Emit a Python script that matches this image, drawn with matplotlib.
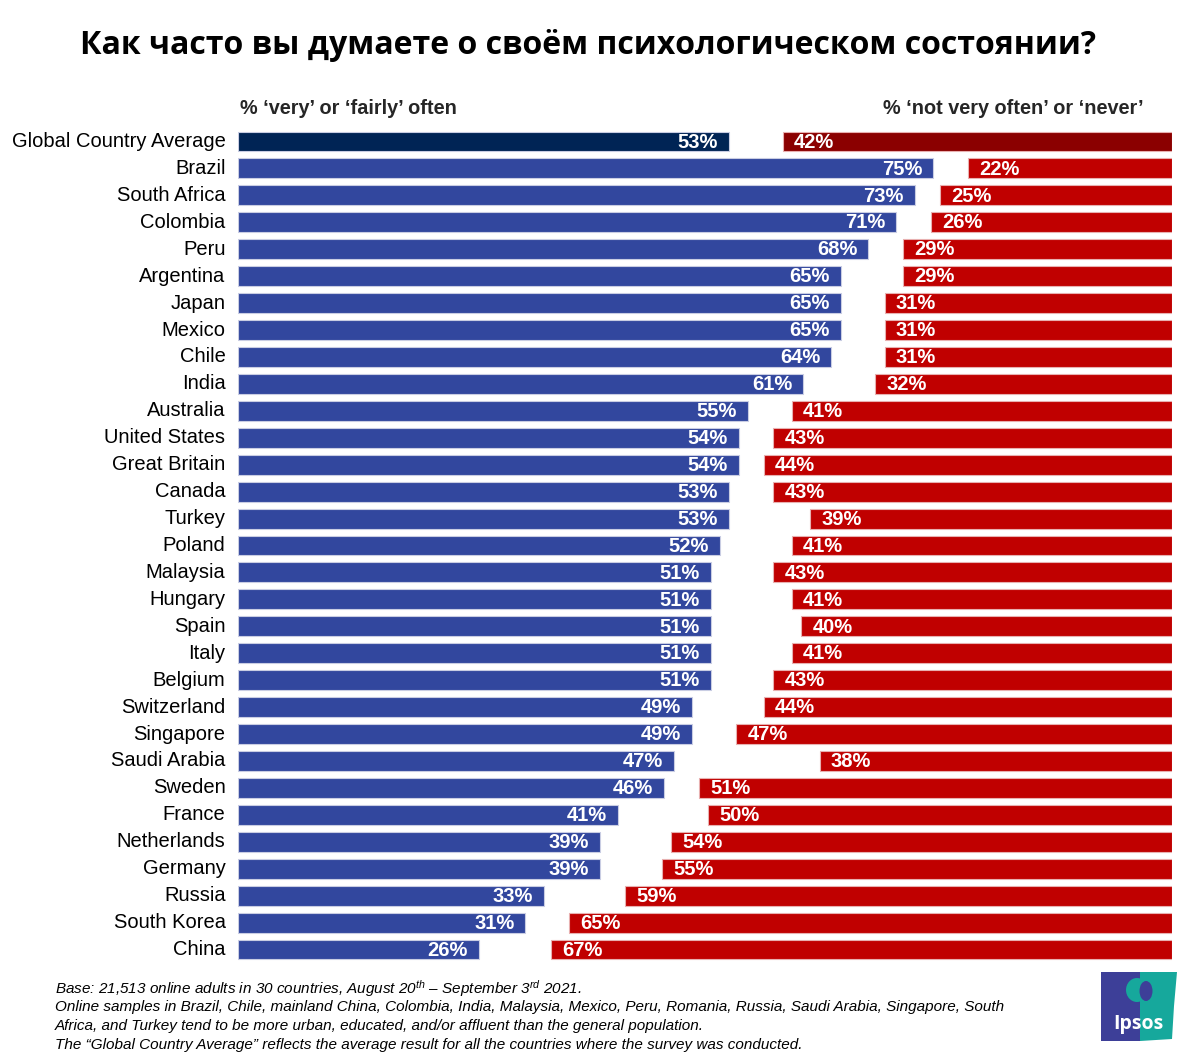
import matplotlib
matplotlib.use("Agg")
import matplotlib.pyplot as plt
from matplotlib.patches import Rectangle, Polygon, Ellipse

plt.rcParams['font.family'] = ['Liberation Sans', 'DejaVu Sans']
plt.rcParams['mathtext.fontset'] = 'custom'
plt.rcParams['mathtext.rm'] = 'Liberation Sans:italic'
plt.rcParams['mathtext.it'] = 'Liberation Sans:italic'

title = "Как часто вы думаете о своём психологическом состоянии?"
left_header = "% ‘very’ or ‘fairly’ often"
right_header = "% ‘not very often’ or ‘never’"

countries = ["Global Country Average", "Brazil", "South Africa", "Colombia", "Peru",
             "Argentina", "Japan", "Mexico", "Chile", "India", "Australia",
             "United States", "Great Britain", "Canada", "Turkey", "Poland",
             "Malaysia", "Hungary", "Spain", "Italy", "Belgium", "Switzerland",
             "Singapore", "Saudi Arabia", "Sweden", "France", "Netherlands",
             "Germany", "Russia", "South Korea", "China"]
often = [53, 75, 73, 71, 68, 65, 65, 65, 64, 61, 55, 54, 54, 53, 53, 52, 51, 51, 51,
         51, 51, 49, 49, 47, 46, 41, 39, 39, 33, 31, 26]
not_often = [42, 22, 25, 26, 29, 29, 31, 31, 31, 32, 41, 43, 44, 43, 39, 41, 43, 41,
             40, 41, 43, 44, 47, 38, 51, 50, 54, 55, 59, 65, 67]

footnotes = [
    "Base: 21,513 online adults in 30 countries, August 20$^{th}$ – September 3$^{rd}$ 2021.",
    "Online samples in Brazil, Chile, mainland China, Colombia, India, Malaysia, Mexico, Peru, Romania, Russia, Saudi Arabia, Singapore, South",
    "Africa, and Turkey tend to be more urban, educated, and/or affluent than the general population.",
    "The “Global Country Average” reflects the average result for all the countries where the survey was conducted.",
]

W, H = 1200, 1064
fig = plt.figure(figsize=(W / 100, H / 100), dpi=100)

XMAX = 100.75
ax_left, ax_right = 238, 1172
ax_top, ax_bot = 128, 963
ax = fig.add_axes([ax_left / W, 1 - ax_bot / H, (ax_right - ax_left) / W, (ax_bot - ax_top) / H])
ax.set_xlim(0, XMAX)
ax.set_ylim(len(countries) - 0.5, -0.5)
ax.axis('off')

navy = "#002455"
blue = "#32479E"
red = "#C00000"
darkred = "#8B0000"
edge = "#c9cde3"
bh = 0.74

for i, (c, v, r) in enumerate(zip(countries, often, not_often)):
    lc = navy if i == 0 else blue
    rc = darkred if i == 0 else red
    ax.barh(i, v, height=bh, left=0, color=lc, edgecolor=edge, linewidth=0.8)
    ax.barh(i, r, height=bh, left=XMAX - r, color=rc, edgecolor="#e8b0b0", linewidth=0.8)
    ax.annotate(f"{v}%", (v, i), xytext=(-8, -0.5), textcoords='offset points',
                ha='right', va='center', color='white', fontsize=14.5, fontweight='bold')
    ax.annotate(f"{r}%", (XMAX - r, i), xytext=(8, -0.5), textcoords='offset points',
                ha='left', va='center', color='white', fontsize=14.5, fontweight='bold')
    ax.annotate(c, (0, i), xytext=(-9, 0), textcoords='offset points',
                ha='right', va='center', color='black', fontsize=14.5)

fig.text(588 / W, 1 - 45 / H, title, ha='center', va='center', fontsize=23,
         fontweight='bold', family=['Open Sans', 'DejaVu Sans'])
fig.text(240 / W, 1 - 108 / H, left_header, ha='left', va='center', fontsize=14.3,
         fontweight='bold', color='#262626')
fig.text(1144 / W, 1 - 108 / H, right_header, ha='right', va='center', fontsize=14.3,
         fontweight='bold', color='#262626')

ys = [989, 1007, 1026, 1045]
for y, t in zip(ys, footnotes):
    fig.text(55 / W, 1 - y / H, t, ha='left', va='center', fontsize=11,
             style='italic', color='black')

# Ipsos logo
def px(x, y):
    return (x / W, 1 - y / H)

fig.patches.append(Polygon([px(1101, 972), px(1140, 972), px(1140, 1041), px(1101, 1041)],
                           closed=True, transform=fig.transFigure, facecolor="#3D3F98",
                           edgecolor='none'))
fig.patches.append(Polygon([px(1140, 972), px(1177, 972), px(1174, 1006), px(1172, 1039),
                            px(1140, 1041)],
                           closed=True, transform=fig.transFigure, facecolor="#16A89C",
                           edgecolor='none'))
# simplified silhouette
fig.patches.append(Ellipse(px(1137, 990), 22 / W, 24 / H, transform=fig.transFigure,
                           facecolor="#16A89C", edgecolor='none'))
fig.patches.append(Ellipse(px(1146, 991), 13 / W, 20 / H, transform=fig.transFigure,
                           facecolor="#3D3F98", edgecolor='none'))
fig.text(1138 / W, 1 - 1024 / H, "Ipsos", ha='center', va='center', color='white',
         fontsize=14, fontweight='bold', family=['Open Sans', 'DejaVu Sans'])

fig.savefig("out.png", dpi=100, facecolor='white')
